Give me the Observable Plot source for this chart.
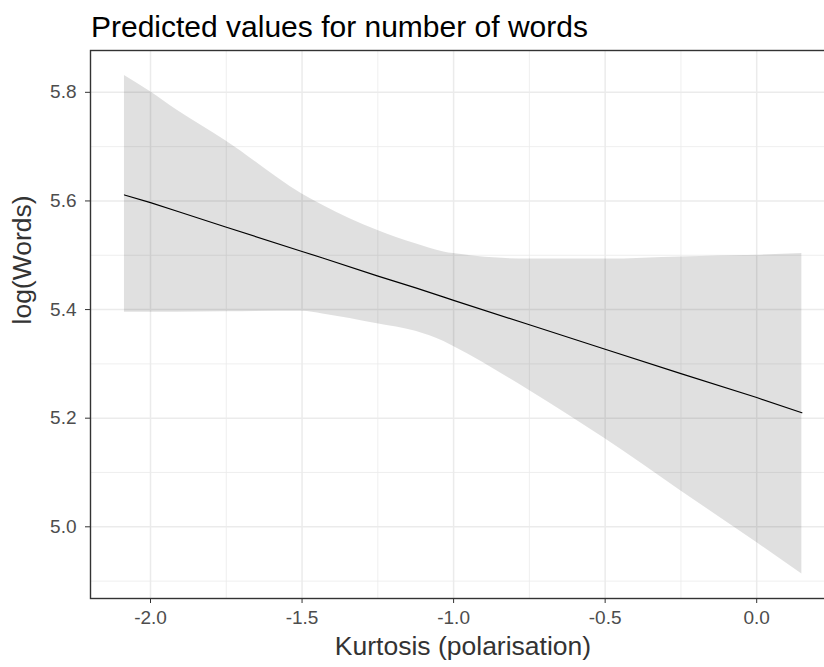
<!DOCTYPE html>
<html><head><meta charset="utf-8">
<script src="https://cdn.jsdelivr.net/npm/d3@7"></script>
<script src="https://cdn.jsdelivr.net/npm/@observablehq/plot@0.6"></script>
<style>
body{margin:0;overflow:hidden;background:#fff;font-family:"Liberation Sans",Arial,sans-serif;}
#wrap{position:relative;width:824px;height:667px;overflow:hidden;}
#title{position:absolute;left:91px;top:10px;font-size:30px;line-height:34px;color:#000;white-space:nowrap;}
#chart{position:absolute;left:0;top:0;}
#chart svg{max-width:none !important;}
</style></head><body>
<div id="wrap"><div id="chart"></div><div id="title"></div></div>
<script>
const titleText = "Predicted values for number of words";
const xTitle = "Kurtosis (polarisation)";
const yTitle = "log(Words)";
const kurtosis  = [-2.086, -2.0, -1.912, -1.752, -1.5, -1.432, -1.252, -1.125, -1.032, -1.0, -0.75, -0.5, -0.25, 0.0, 0.149];
const predicted = [5.611, 5.597, 5.581, 5.552, 5.507, 5.495, 5.462, 5.440, 5.423, 5.417, 5.372, 5.327, 5.282, 5.238, 5.210];
const ciLow     = [5.395, 5.395, 5.395, 5.396, 5.397, 5.392, 5.374, 5.360, 5.341, 5.332, 5.251, 5.162, 5.066, 4.971, 4.913];
const ciHigh    = [5.831, 5.801, 5.767, 5.711, 5.613, 5.592, 5.546, 5.521, 5.506, 5.503, 5.493, 5.493, 5.497, 5.500, 5.503];
const xTicks = [-2.0, -1.5, -1.0, -0.5, 0.0];
const yTicks = [5.0, 5.2, 5.4, 5.6, 5.8];
const xMinor = [-1.75, -1.25, -0.75, -0.25, 0.25];
const yMinor = [4.9, 5.1, 5.3, 5.5, 5.7];

document.getElementById("title").textContent = titleText;

const data = kurtosis.map((x, i) => ({x, fit: predicted[i], lo: ciLow[i], hi: ciHigh[i]}));
const fmt = d => d.toFixed(1);
const font = "'Liberation Sans', Arial, sans-serif";

const plot = Plot.plot({
  width: 836, height: 667,
  marginLeft: 90, marginTop: 50, marginBottom: 69, marginRight: 1,
  x: {domain: [-2.198, 0.260]},
  y: {domain: [4.868, 5.877]},
  style: {fontFamily: font, background: "white", overflow: "visible", maxWidth: "none"},
  marks: [
    Plot.gridX(xMinor, {stroke: "#ebebeb", strokeOpacity: 1, strokeWidth: 0.8}),
    Plot.gridY(yMinor, {stroke: "#ebebeb", strokeOpacity: 1, strokeWidth: 0.8}),
    Plot.gridX(xTicks, {stroke: "#ebebeb", strokeOpacity: 1, strokeWidth: 1.5}),
    Plot.gridY(yTicks, {stroke: "#ebebeb", strokeOpacity: 1, strokeWidth: 1.5}),
    Plot.areaY(data, {x: "x", y1: "lo", y2: "hi", fill: "#000", fillOpacity: 0.12, curve: "monotone-x"}),
    Plot.line(data, {x: "x", y: "fit", stroke: "#000", strokeWidth: 1.2}),
    Plot.frame({stroke: "#333", strokeWidth: 1.4}),
    Plot.axisX(xTicks, {tickSize: 5, tickPadding: 7, fontSize: 19, color: "#4d4d4d", stroke: "#333", tickFormat: fmt, label: null}),
    Plot.axisY(yTicks, {tickSize: 5, tickPadding: 9, fontSize: 19, color: "#4d4d4d", stroke: "#333", tickFormat: fmt, label: null}),
    Plot.text([xTitle], {frameAnchor: "bottom", dy: 48, fontSize: 26.5, fill: "#333", lineAnchor: "middle"}),
    Plot.text([yTitle], {frameAnchor: "left", dx: -68, rotate: -90, fontSize: 26.5, fill: "#333", lineAnchor: "middle"})
  ]
});
document.getElementById("chart").appendChild(plot);
</script>
</body></html>
